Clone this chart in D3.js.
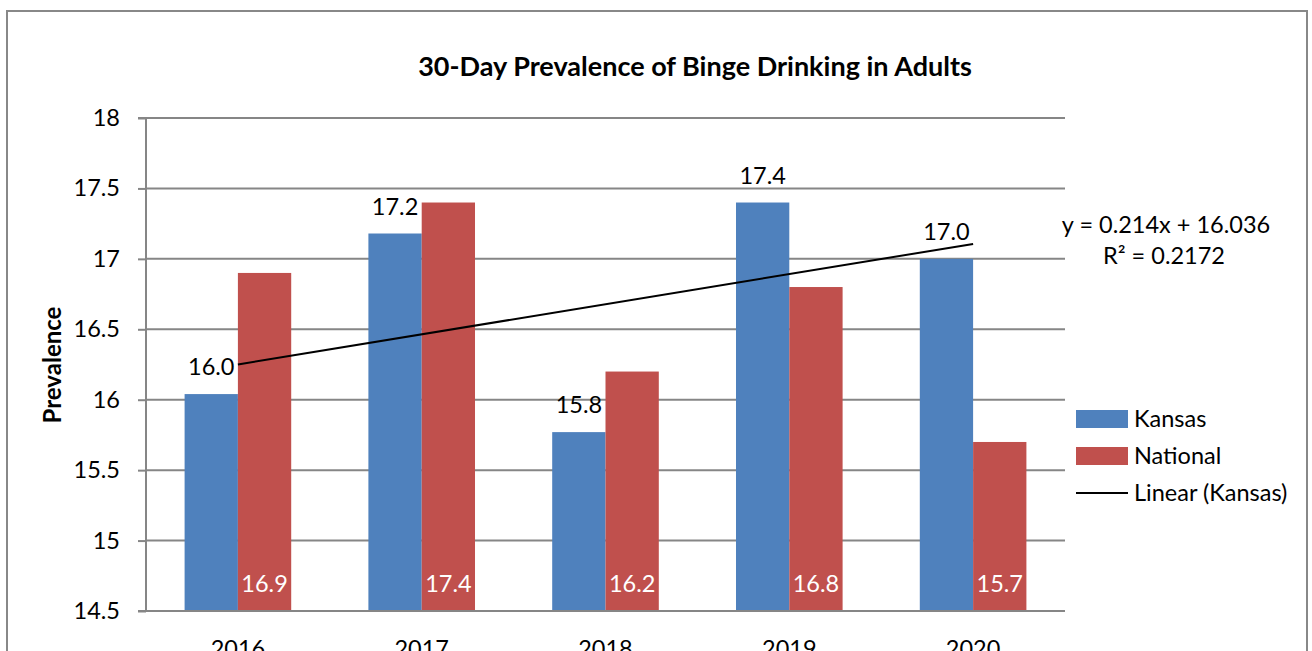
<!DOCTYPE html>
<html><head><meta charset="utf-8">
<script src="https://cdn.jsdelivr.net/npm/d3@7"></script>
<style>body{margin:0;background:#fff;} svg{display:block;font-family:Lato,"Open Sans",sans-serif;}</style>
</head><body>
<svg id="c" width="1312" height="651"></svg>
<script>
const years = ["2016","2017","2018","2019","2020"];
const seriesNames = ["Kansas","National"];
const kansas = [16.04,17.18,15.77,17.4,17.0];
const national = [16.9,17.4,16.2,16.8,15.7];
const yTicks = [14.5,15,15.5,16,16.5,17,17.5,18];
const colors = {Kansas:"#4F81BD", National:"#C0504D"};

const svg = d3.select("#c");
const m={l:146,r:1065,t:118,b:611};
const FS=23.5;

svg.append("rect").attr("x",7).attr("y",11).attr("width",1300).attr("height",700)
  .attr("fill","#fff").attr("stroke","#888").attr("stroke-width",2);

const x = d3.scaleBand().domain(years).range([m.l,m.r]).paddingInner(0.42).paddingOuter(0.21);
const xs = d3.scaleBand().domain(seriesNames).range([0,x.bandwidth()]);
const y = d3.scaleLinear().domain([14.5,18]).range([m.b,m.t]);

// gridlines
svg.append("g").selectAll("line").data(yTicks.slice(1)).join("line")
  .attr("x1",m.l).attr("x2",m.r).attr("y1",d=>y(d)).attr("y2",d=>y(d))
  .attr("stroke","#868686").attr("stroke-width",2);

// bars
const data = years.map((yr,i)=>({yr, Kansas:kansas[i], National:national[i]}));
const g = svg.append("g");
seriesNames.forEach(s=>{
  g.selectAll(".b"+s).data(data).join("rect")
    .attr("x",d=>x(d.yr)+xs(s)).attr("width",xs.bandwidth())
    .attr("y",d=>y(d[s])).attr("height",d=>y(14.5)-y(d[s]))
    .attr("fill",colors[s]);
});

// axes
const ya = d3.axisLeft(y).tickValues(yTicks).tickSize(8).tickFormat(d3.format("~g"));
const yg = svg.append("g").attr("transform",`translate(${m.l},0)`).call(ya);
yg.select(".domain").attr("stroke","#868686").attr("stroke-width",2).attr("d",`M-8,${m.b}H0V${m.t}H-8`);
yg.selectAll(".tick line").attr("stroke","#868686").attr("stroke-width",2);
yg.selectAll(".tick text").attr("x",-26).attr("font-size",FS).attr("fill","#000").attr("font-family","Lato");
svg.append("line").attr("x1",m.l).attr("x2",m.r).attr("y1",m.b).attr("y2",m.b).attr("stroke","#868686").attr("stroke-width",2);

// x labels
svg.append("g").selectAll("text").data(years).join("text")
  .attr("x",d=>x(d)+x.bandwidth()/2).attr("y",657).attr("text-anchor","middle")
  .attr("font-size",FS).text(d=>d);

// trendline (linear regression of Kansas)
const n=kansas.length, xi=d3.range(1,n+1);
const mx=d3.mean(xi), my=d3.mean(kansas);
const slope=d3.sum(xi.map((v,i)=>(v-mx)*(kansas[i]-my)))/d3.sum(xi.map(v=>(v-mx)**2));
const icpt=my-slope*mx;
const ssTot=d3.sum(kansas.map(v=>(v-my)**2));
const ssRes=d3.sum(kansas.map((v,i)=>(v-(icpt+slope*xi[i]))**2));
const r2=1-ssRes/ssTot;
const cx=d=>x(d)+x.bandwidth()/2;
svg.append("line").attr("x1",cx(years[0])).attr("y1",y(icpt+slope*1))
  .attr("x2",cx(years[n-1])).attr("y2",y(icpt+slope*n)).attr("stroke","#000").attr("stroke-width",2);

// kansas labels
svg.append("g").selectAll("text").data(data).join("text")
  .attr("x",d=>x(d.yr)+xs("Kansas")+xs.bandwidth()/2).attr("y",d=>y(d.Kansas)-19)
  .attr("text-anchor","middle").attr("font-size",FS).text(d=>d.Kansas.toFixed(1));
// national labels
svg.append("g").selectAll("text").data(data).join("text")
  .attr("x",d=>x(d.yr)+xs("National")+xs.bandwidth()/2).attr("y",592)
  .attr("text-anchor","middle").attr("font-size",FS).attr("fill","#fff").text(d=>d.National.toFixed(1));

// equation
svg.append("text").attr("x",1166).attr("y",233).attr("text-anchor","middle").attr("font-size",FS)
  .text(`y = ${slope.toFixed(3)}x + ${icpt.toFixed(3)}`);
svg.append("text").attr("x",1164).attr("y",264).attr("text-anchor","middle").attr("font-size",FS)
  .text(`R² = ${r2.toFixed(4)}`);

// title
svg.append("text").attr("x",695).attr("y",76).attr("text-anchor","middle").attr("font-size",27)
  .attr("font-weight","bold").text("30-Day Prevalence of Binge Drinking in Adults");
// y title
svg.append("text").attr("transform","translate(61,365) rotate(-90)").attr("text-anchor","middle")
  .attr("font-size",24).attr("font-weight","bold").text("Prevalence");

// legend
const leg = svg.append("g");
const li=[{k:"Kansas",t:"rect",y:419},{k:"National",t:"rect",y:456},{k:"Linear (Kansas)",t:"line",y:493}];
li.forEach(d=>{
  if(d.t==="rect") leg.append("rect").attr("x",1076).attr("y",d.y-9).attr("width",52).attr("height",18).attr("fill",colors[d.k]);
  else leg.append("line").attr("x1",1076).attr("x2",1128).attr("y1",d.y).attr("y2",d.y).attr("stroke","#000").attr("stroke-width",2);
  leg.append("text").attr("x",1134).attr("y",d.y+8).attr("font-size",FS).text(d.k);
});
</script>
</body></html>
